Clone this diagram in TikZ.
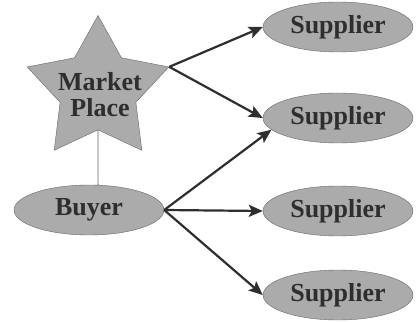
\documentclass[tikz,border=0pt]{standalone}
\usepackage{fontspec}
\setmainfont{Liberation Serif}
\usetikzlibrary{shapes.geometric,arrows.meta}

\begin{document}
\begin{tikzpicture}[x=1pt, y=-1pt,
    party/.style={ellipse, draw=black!60, fill=black!33, minimum width=150pt,
      minimum height=50pt, inner sep=0pt, text=black!82,
      font=\bfseries\fontsize{26}{26}\selectfont},
    link/.style={draw=black!82, line width=2.2pt,
      -{Stealth[length=14pt,width=12pt,inset=3pt]}}]
      \useasboundingbox (0,0) rectangle (418,323);
      \node[star, star points=5, star point ratio=1.87, minimum size=149pt,
        inner sep=0pt, draw=black!60, fill=black!33] (market) at (98,90) {};
      \node[align=center, text=black!82, font=\bfseries\fontsize{26}{26}\selectfont]
        (marketlabel) at (100,95) {Market\\Place};
      \node[party] (buyer) at (89,210) {Buyer};
      \node[party] (sup1) at (338,27) {Supplier};
      \node[party] (sup2) at (338,118) {Supplier};
      \node[party] (sup3) at (338,211) {Supplier};
      \node[party] (sup4) at (338,295) {Supplier};
      \draw[draw=black!60, line width=0.8pt] (market.inner point 3) -- (buyer.70);
      \draw[link] (market.outer point 5) -- (sup1.west);
      \draw[link] (market.outer point 5) -- (sup2.west);
      \draw[link] (buyer.east) -- (sup2.190);
      \draw[link] (buyer.east) -- (sup3.west);
      \draw[link] (buyer.east) -- (sup4.west);
    \end{tikzpicture}
\end{document}
